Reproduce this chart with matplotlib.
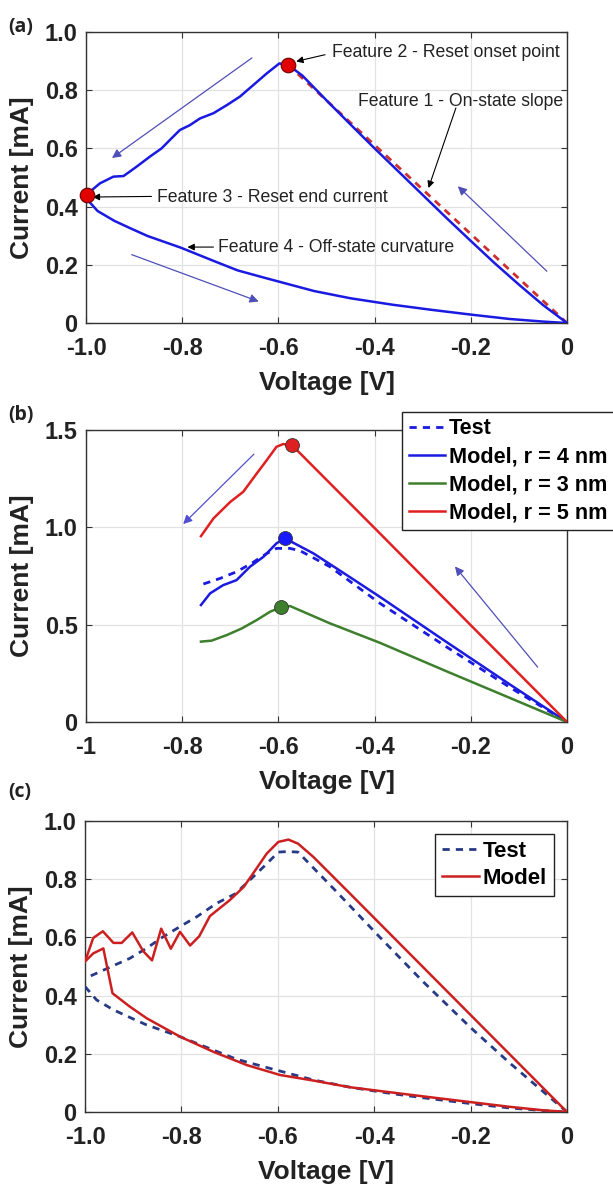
import matplotlib
matplotlib.use("Agg")
import matplotlib.pyplot as plt
from matplotlib.ticker import FixedLocator, FixedFormatter

plt.rcParams['font.family'] = ['Liberation Sans', 'DejaVu Sans']

# ---------------- panel (a) data ----------------
a_on_v = [0.0, -0.05, -0.10, -0.15, -0.20, -0.25, -0.30, -0.35, -0.40, -0.45, -0.50, -0.55, -0.58]
a_on_i = [0.0, 0.062, 0.132, 0.205, 0.282, 0.360, 0.440, 0.520, 0.600, 0.682, 0.765, 0.850, 0.887]
a_reset_v = [-0.58, -0.598, -0.624, -0.652, -0.680, -0.707, -0.735, -0.763, -0.784, -0.805, -0.822,
             -0.843, -0.867, -0.895, -0.922, -0.943, -0.971, -0.992, -0.997]
a_reset_i = [0.887, 0.892, 0.858, 0.818, 0.778, 0.749, 0.721, 0.703, 0.680, 0.663, 0.635,
             0.600, 0.572, 0.537, 0.505, 0.503, 0.480, 0.451, 0.440]
a_off_v = [-0.997, -0.995, -0.976, -0.941, -0.907, -0.872, -0.803, -0.734, -0.685, -0.630, -0.526,
           -0.450, -0.363, -0.280, -0.200, -0.120, -0.050, 0.0]
a_off_i = [0.440, 0.420, 0.385, 0.351, 0.325, 0.299, 0.259, 0.213, 0.181, 0.156, 0.110,
           0.085, 0.063, 0.045, 0.029, 0.014, 0.005, 0.0]
a_slope_v = [-0.58, 0.0]
a_slope_i = [0.887, 0.0]
a_dots_v = [-0.58, -0.997]
a_dots_i = [0.887, 0.440]

# ---------------- panel (b) data ----------------
b_test_v = [-0.756, -0.721, -0.687, -0.656, -0.624, -0.604, -0.576, -0.555, -0.493, -0.389, -0.25, -0.12, 0.0]
b_test_i = [0.709, 0.738, 0.772, 0.815, 0.866, 0.892, 0.892, 0.880, 0.798, 0.610, 0.385, 0.180, 0.0]
b_r4_v = [-0.761, -0.742, -0.715, -0.687, -0.659, -0.631, -0.604, -0.586, -0.527, -0.458, -0.389, -0.25, -0.12, 0.0]
b_r4_i = [0.601, 0.661, 0.703, 0.729, 0.798, 0.849, 0.918, 0.943, 0.866, 0.755, 0.643, 0.410, 0.195, 0.0]
b_r3_v = [-0.761, -0.739, -0.707, -0.676, -0.645, -0.617, -0.595, -0.576, -0.493, -0.389, -0.25, -0.12, 0.0]
b_r3_i = [0.413, 0.418, 0.447, 0.481, 0.524, 0.567, 0.589, 0.596, 0.507, 0.407, 0.260, 0.125, 0.0]
b_r5_v = [-0.761, -0.735, -0.700, -0.673, -0.645, -0.624, -0.604, -0.590, -0.572, -0.527, -0.458, -0.389, -0.2, 0.0]
b_r5_i = [0.955, 1.046, 1.131, 1.183, 1.277, 1.346, 1.414, 1.428, 1.423, 1.311, 1.140, 0.969, 0.497, 0.0]
b_dots_v = [-0.586, -0.595, -0.572]
b_dots_i = [0.943, 0.589, 1.423]

# ---------------- panel (c) data ----------------
c_test_up_v = [0.0, -0.12, -0.20, -0.30, -0.388, -0.48, -0.558, -0.580, -0.599, -0.623, -0.648, -0.688,
               -0.727, -0.768, -0.803, -0.838, -0.872, -0.907, -0.941, -0.969, -1.0]
c_test_up_i = [0.0, 0.170, 0.290, 0.450, 0.600, 0.760, 0.893, 0.895, 0.893, 0.853, 0.813, 0.750,
               0.717, 0.671, 0.637, 0.602, 0.563, 0.528, 0.503, 0.482, 0.459]
c_test_lo_v = [-1.0, -0.976, -0.941, -0.907, -0.872, -0.803, -0.734, -0.685, -0.630, -0.526,
               -0.450, -0.363, -0.280, -0.200, -0.120, -0.050, 0.0]
c_test_lo_i = [0.431, 0.385, 0.351, 0.325, 0.299, 0.259, 0.213, 0.181, 0.156, 0.110,
               0.085, 0.063, 0.045, 0.029, 0.014, 0.005, 0.0]
c_model_up_v = [0.0, -0.12, -0.24, -0.36, -0.45, -0.526, -0.558, -0.578, -0.599, -0.623, -0.647,
                -0.671, -0.699, -0.720, -0.741, -0.763, -0.782, -0.803, -0.822, -0.842, -0.861,
                -0.879, -0.902, -0.924, -0.941, -0.963, -0.983, -1.0]
c_model_up_i = [0.0, 0.200, 0.400, 0.600, 0.750, 0.876, 0.922, 0.936, 0.928, 0.888, 0.830,
                0.773, 0.729, 0.701, 0.673, 0.604, 0.572, 0.619, 0.561, 0.630, 0.521,
                0.552, 0.617, 0.581, 0.581, 0.621, 0.598, 0.517]
c_model_lo_v = [-1.0, -0.983, -0.962, -0.943, -0.907, -0.872, -0.803, -0.734, -0.664, -0.595,
                -0.526, -0.450, -0.363, -0.280, -0.200, -0.120, -0.050, 0.0]
c_model_lo_i = [0.517, 0.545, 0.562, 0.408, 0.362, 0.322, 0.259, 0.207, 0.161, 0.127,
                0.108, 0.085, 0.067, 0.050, 0.034, 0.018, 0.006, 0.0]

xt_ticks = [-1.0, -0.8, -0.6, -0.4, -0.2, 0.0]
xt_labels_ac = ['-1.0', '-0.8', '-0.6', '-0.4', '-0.2', '0']
xt_labels_b = ['-1', '-0.8', '-0.6', '-0.4', '-0.2', '0']
yt_ticks_ac = [0.0, 0.2, 0.4, 0.6, 0.8, 1.0]
yt_labels_ac = ['0', '0.2', '0.4', '0.6', '0.8', '1.0']
yt_ticks_b = [0.0, 0.5, 1.0, 1.5]
yt_labels_b = ['0', '0.5', '1.0', '1.5']

BLUE = '#1a1ae0'
ARROW = '#4f4fb8'
RED_DOT = '#e00000'


def style_axes(ax, xlabels, yticks, ylabels, ymax):
    ax.set_xlim(-1.0, 0.0)
    ax.set_ylim(0.0, ymax)
    ax.xaxis.set_major_locator(FixedLocator(xt_ticks))
    ax.xaxis.set_major_formatter(FixedFormatter(xlabels))
    ax.yaxis.set_major_locator(FixedLocator(yticks))
    ax.yaxis.set_major_formatter(FixedFormatter(ylabels))
    ax.grid(True, color='#e2e2e2', linewidth=0.9)
    ax.set_axisbelow(True)
    for sp in ax.spines.values():
        sp.set_color('#333333')
        sp.set_linewidth(1.0)
    ax.tick_params(direction='in', length=4, width=0.8, color='#333333',
                   top=True, right=True, labelsize=17)
    ax.tick_params(axis='x', pad=10)
    ax.tick_params(axis='y', pad=6)
    for lab in ax.get_xticklabels() + ax.get_yticklabels():
        lab.set_fontweight('bold')
        lab.set_color('#222222')
    ax.set_xlabel('Voltage [V]', fontsize=19, fontweight='bold', color='#222222')
    ax.set_ylabel('Current [mA]', fontsize=19, fontweight='bold', color='#222222')
    ax.xaxis.set_label_coords(0.5, -0.165)
    ax.yaxis.set_label_coords(-0.108, 0.5)


def arrow(ax, start, end, color=ARROW, lw=0.9, ms=13):
    ax.annotate('', xy=end, xytext=start,
                arrowprops=dict(arrowstyle='-|>', color=color, lw=lw,
                                mutation_scale=ms, shrinkA=0, shrinkB=0))


def note(ax, text, text_xy, tip_xy, start_xy):
    ax.text(text_xy[0], text_xy[1], text, fontsize=12.7, color='#222222',
            ha='left', va='center')
    ax.annotate('', xy=tip_xy, xytext=start_xy,
                arrowprops=dict(arrowstyle='-|>', color='black', lw=0.8,
                                mutation_scale=10, shrinkA=0, shrinkB=0))


fig = plt.figure(figsize=(6.13, 11.85), dpi=100)
ax_a = fig.add_axes([0.1403, 0.7274, 0.7847, 0.2456])
ax_b = fig.add_axes([0.1403, 0.3907, 0.7847, 0.2464])
ax_c = fig.add_axes([0.1387, 0.0616, 0.7863, 0.2456])

# ---- (a) ----
ax = ax_a
style_axes(ax, xt_labels_ac, yt_ticks_ac, yt_labels_ac, 1.0)
ax.plot(a_slope_v, a_slope_i, color='#cc3030', lw=2.0, dashes=(2.6, 2.2), zorder=2)
ax.plot(a_on_v, a_on_i, color=BLUE, lw=1.8, zorder=3)
ax.plot(a_reset_v, a_reset_i, color=BLUE, lw=1.8, zorder=3)
ax.plot(a_off_v, a_off_i, color=BLUE, lw=1.8, zorder=3)
ax.plot(a_dots_v, a_dots_i, 'o', color=RED_DOT, markeredgecolor='#700000',
        markeredgewidth=0.8, markersize=10.5, zorder=4, clip_on=False)
arrow(ax, (-0.655, 0.911), (-0.946, 0.567))
arrow(ax, (-0.042, 0.178), (-0.227, 0.470))
arrow(ax, (-0.905, 0.235), (-0.641, 0.074))
note(ax, 'Feature 2 - Reset onset point', (-0.489, 0.928), (-0.563, 0.899), (-0.503, 0.922))
note(ax, 'Feature 1 - On-state slope', (-0.435, 0.762), (-0.288, 0.464), (-0.231, 0.739))
note(ax, 'Feature 3 - Reset end current', (-0.852, 0.433), (-0.986, 0.433), (-0.864, 0.435))
note(ax, 'Feature 4 - Off-state curvature', (-0.726, 0.261), (-0.789, 0.261), (-0.735, 0.261))

# ---- (b) ----
ax = ax_b
style_axes(ax, xt_labels_b, yt_ticks_b, yt_labels_b, 1.5)
ax.plot(b_test_v, b_test_i, color=BLUE, lw=2.0, dashes=(2.6, 2.2), label='Test', zorder=3)
ax.plot(b_r4_v, b_r4_i, color=BLUE, lw=1.8, label='Model, r = 4 nm', zorder=3)
ax.plot(b_r3_v, b_r3_i, color='#3d7f2c', lw=1.8, label='Model, r = 3 nm', zorder=3)
ax.plot(b_r5_v, b_r5_i, color='#e02020', lw=1.8, label='Model, r = 5 nm', zorder=3)
for v, i, c in zip(b_dots_v, b_dots_i, ['#1a1aff', '#3d7f2c', '#e02020']):
    ax.plot(v, i, 'o', color=c, markeredgecolor='#333333', markeredgewidth=0.6,
            markersize=10, zorder=4, clip_on=False)
arrow(ax, (-0.651, 1.376), (-0.798, 1.017), color='#4f4fd0')
arrow(ax, (-0.061, 0.282), (-0.233, 0.799))
leg = ax.legend(loc='upper left', bbox_to_anchor=(0.657, 1.062), borderaxespad=0,
                prop={'weight': 'bold', 'size': 15.6}, handlelength=1.7, handletextpad=0.15,
                labelspacing=0.33, borderpad=0.3, fancybox=False, framealpha=1,
                edgecolor='#222222')
leg.get_frame().set_linewidth(1.0)

# ---- (c) ----
ax = ax_c
style_axes(ax, xt_labels_ac, yt_ticks_ac, yt_labels_ac, 1.0)
ax.plot(c_test_up_v, c_test_up_i, color='#283a86', lw=2.0, dashes=(2.6, 2.2), label='Test', zorder=3)
ax.plot(c_test_lo_v, c_test_lo_i, color='#283a86', lw=2.0, dashes=(2.6, 2.2), zorder=3)
ax.plot(c_model_up_v, c_model_up_i, color='#cc2020', lw=1.8, label='Model', zorder=3)
ax.plot(c_model_lo_v, c_model_lo_i, color='#cc2020', lw=1.8, zorder=3)
leg = ax.legend(loc='upper right', prop={'weight': 'bold', 'size': 16}, handlelength=1.7,
                handletextpad=0.15, labelspacing=0.28, borderpad=0.3, fancybox=False,
                framealpha=1, edgecolor='#222222', borderaxespad=0.6)
leg.get_frame().set_linewidth(1.0)

# panel letters
for y, t in [(1 - 27 / 1185, '(a)'), (1 - 415 / 1185, '(b)'), (1 - 792 / 1185, '(c)')]:
    fig.text(0.014, y, t, fontsize=14, fontweight='bold', family='Open Sans',
             ha='left', va='center', color='#222222')

fig.savefig('out.png', dpi=100)
